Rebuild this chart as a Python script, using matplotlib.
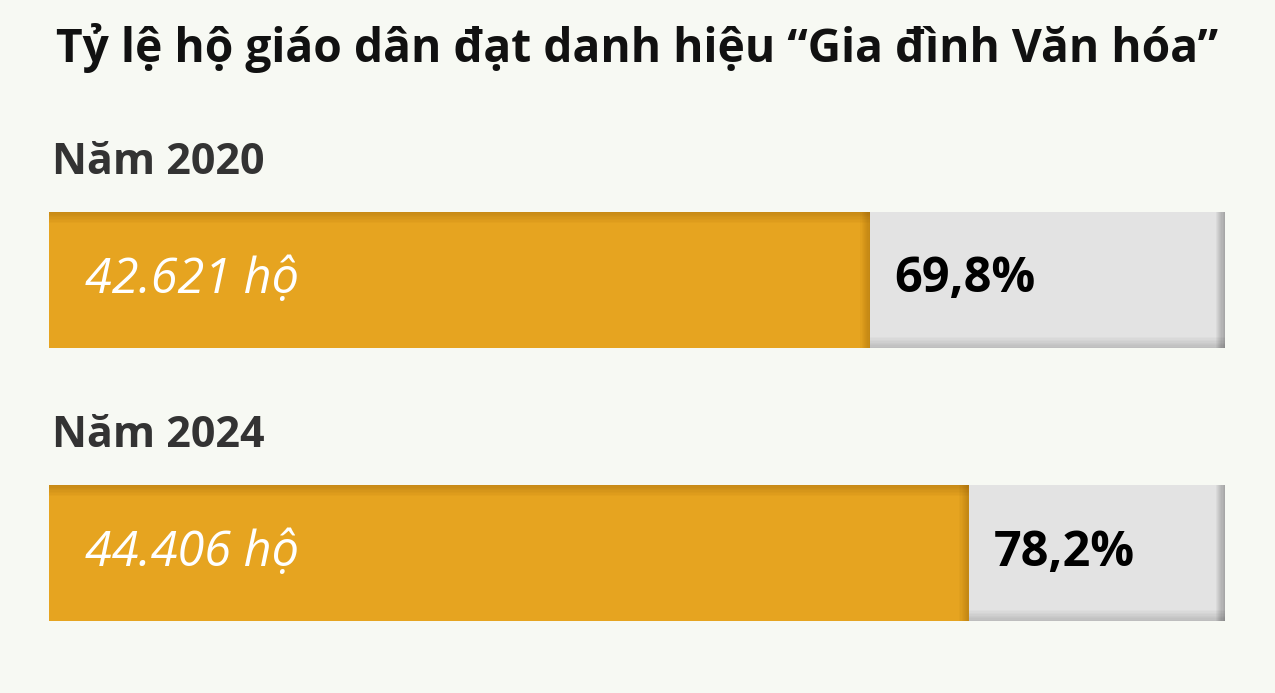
import matplotlib
matplotlib.use("Agg")
import matplotlib.pyplot as plt
from matplotlib.patches import Rectangle

title = "Tỷ lệ hộ giáo dân đạt danh hiệu “Gia đình Văn hóa”"
years = ["Năm 2020", "Năm 2024"]
households = ["42.621 hộ", "44.406 hộ"]
percents = [69.8, 78.2]
pct_labels = ["69,8%", "78,2%"]

BG = "#f7f9f3"
ORANGE = "#e6a420"
GRAY = "#e3e3e3"
FONT = ["Open Sans", "DejaVu Sans"]

W, H = 1275, 693
fig = plt.figure(figsize=(W / 100, H / 100), dpi=100, facecolor=BG)
left, right = 49 / W, 1225 / W
ax = fig.add_axes([left, 0, right - left, 1])
ax.set_facecolor("none")
ax.set_xlim(0, 100)
ax.set_ylim(1 + (H - 553) / 273, -280 / 273)
ax.axis("off")

bh = 136 / 273
ypos = list(range(len(years)))
ax.barh(ypos, [100] * len(ypos), height=bh, color=GRAY, zorder=1)
ax.barh(ypos, percents, height=bh, color=ORANGE, zorder=2)

# soft shading at edges
N = 8
for y, p in zip(ypos, percents):
    for i in range(N):
        w = (N - i) * 0.1
        ax.add_patch(Rectangle((100 - w, y - bh / 2), w, bh, color="black", alpha=0.035, lw=0, zorder=3))
        ax.add_patch(Rectangle((p - w, y - bh / 2), w, bh, color="#7a4a00", alpha=0.04, lw=0, zorder=3))
        hh = (N - i) * 0.005
        ax.add_patch(Rectangle((p, y + bh / 2 - hh), 100 - p, hh, color="black", alpha=0.02, lw=0, zorder=3))
        ax.add_patch(Rectangle((0, y - bh / 2), p, hh, color="#7a4a00", alpha=0.035, lw=0, zorder=3))

for y, yr, hl, pl, p in zip(ypos, years, households, pct_labels, percents):
    ax.text(0.25, y - 117 / 273, yr, ha="left", va="center", fontsize=31,
            fontweight="bold", color="#333333", family=FONT)
    ax.text(3.1, y, hl, ha="left", va="center", fontsize=35, fontstyle="italic",
            fontweight="normal", color="white", family=FONT, zorder=4)
    ax.text(p + 2.1, y, pl, ha="left", va="center", fontsize=35, fontweight="bold",
            color="black", family=FONT, zorder=4)

fig.text(0.5, 1 - 48 / H, title, ha="center", va="center", fontsize=33.2,
         fontweight="bold", color="#111111", family=FONT)

fig.savefig("out.png", dpi=100, facecolor=BG)
